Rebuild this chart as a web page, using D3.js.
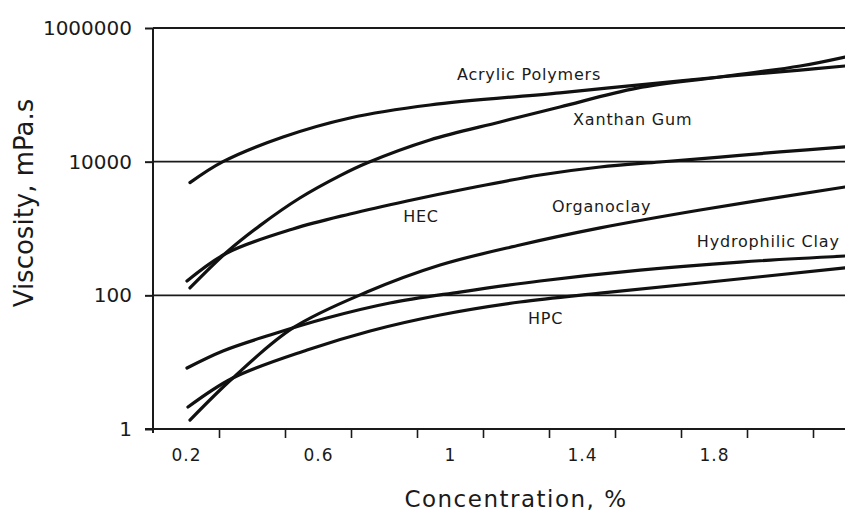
<!DOCTYPE html>
<html>
<head>
<meta charset="utf-8">
<script src="https://cdn.jsdelivr.net/npm/d3@7"></script>
<style>
  body{margin:0;background:#fff;}
  text{font-family:"DejaVu Sans",sans-serif;fill:#1a1a1a;}
</style>
</head>
<body>
<div id="grafico"></div>
<script>
// concentration (%) , viscosity (mPa.s)
const acrylic=[[0.212,4850],[0.312,10000],[0.494,23400],[0.697,45100],[0.939,70500],[1.333,107000],[1.567,140000],[1.818,185000],[2.061,235000],[2.197,270000]];
const xanthan=[[0.212,129],[0.324,445],[0.424,1105],[0.545,2860],[0.667,6190],[0.748,9550],[0.939,21100],[1.152,39300],[1.333,65800],[1.567,126000],[1.818,185000],[2.061,270000],[2.197,368000]];
const hec=[[0.203,164],[0.324,430],[0.524,984],[0.697,1650],[0.870,2580],[1.061,4040],[1.273,6320],[1.455,8330],[1.636,9890],[1.818,11700],[2.0,14000],[2.197,16600]];
const organoclay=[[0.212,1.36],[0.342,5.8],[0.524,32.5],[0.748,112],[0.970,284],[1.212,566],[1.455,1020],[1.758,1890],[2.197,4180]];
const hydrophilic=[[0.203,8.18],[0.312,14.7],[0.455,25.5],[0.627,45.8],[0.818,76.8],[1.030,112],[1.273,164],[1.576,239],[1.879,315],[2.197,388]];
const hpc=[[0.206,2.13],[0.342,5.8],[0.567,15.2],[0.758,29.3],[0.970,50.8],[1.212,79.5],[1.455,108],[1.758,153],[2.197,257]];

const series=[acrylic,xanthan,hec,organoclay,hydrophilic,hpc];

// rotulos das curvas, ancorados em coordenadas de dados
const nomes=['Acrylic Polymers','Xanthan Gum','HEC','Organoclay','Hydrophilic Clay','HPC'];
const nomesC=[1.021,1.373,0.858,1.309,1.748,1.236];
const nomesV=[167000,35400,1250,1770,529,37.2];

const yTicks=[1,100,10000,1000000];
const gridY=[100,10000,1000000];
const xTicks=[0.3,0.5,0.7,0.9,1.1,1.3,1.5,1.7,1.9,2.1];
const xLabels=[0.2,0.6,1,1.4,1.8];

const W=845,H=513;
const svg=d3.select('#grafico').append('svg').attr('width',W).attr('height',H);

const x=d3.scaleLinear().domain([0.1,2.2]).range([153,846]);
const y=d3.scaleLog().domain([1,1000000]).range([429,28]);

// linhas de grade (10000, 100) e linha do topo
svg.append('g').selectAll('line').data(gridY).join('line')
  .attr('x1',x(0.1)).attr('x2',W)
  .attr('y1',d=>y(d)).attr('y2',d=>y(d))
  .attr('stroke','#1a1a1a').attr('stroke-width',d=>d===1000000?2:1.6);

// eixo y
const eixoY=svg.append('g').attr('transform','translate('+x(0.1)+',0)')
  .call(d3.axisLeft(y).tickValues(yTicks).tickFormat(d3.format('d')).tickSize(8).tickPadding(13));
eixoY.select('.domain').attr('d','M0,'+y(1000000)+'V'+(y(1)+4)).attr('stroke','#1a1a1a').attr('stroke-width',2);
eixoY.selectAll('.tick line').attr('stroke','#1a1a1a').attr('stroke-width',2);
eixoY.selectAll('.tick text').style('font-size','20px').attr('fill','#1a1a1a');

// eixo x: marcas
const eixoX=svg.append('g').attr('transform','translate(0,'+y(1)+')')
  .call(d3.axisBottom(x).tickValues(xTicks).tickFormat('').tickSize(9));
eixoX.select('.domain').attr('d','M145,0H'+W).attr('stroke','#1a1a1a').attr('stroke-width',2);
eixoX.selectAll('.tick line').attr('stroke','#1a1a1a').attr('stroke-width',1.6);

// eixo x: rotulos
const rotX=svg.append('g').attr('transform','translate(0,'+y(1)+')')
  .call(d3.axisBottom(x).tickValues(xLabels).tickFormat(d=>String(d)).tickSize(0).tickPadding(20));
rotX.select('.domain').remove();
rotX.selectAll('.tick text').style('font-size','17px').style('letter-spacing','1px').attr('fill','#1a1a1a');

// curvas
const linha=d3.line().x(d=>x(d[0])).y(d=>y(d[1])).curve(d3.curveCatmullRom.alpha(0.5));
svg.append('g').selectAll('path').data(series).join('path')
  .attr('d',linha)
  .attr('fill','none')
  .attr('stroke','#111')
  .attr('stroke-width',3.2)
  .attr('stroke-linecap','round');

svg.append('g').selectAll('text').data(nomes).join('text')
  .attr('x',(d,i)=>x(nomesC[i]))
  .attr('y',(d,i)=>y(nomesV[i]))
  .style('font-size','16px')
  .style('letter-spacing','0.8px')
  .text(d=>d);

// titulos dos eixos
svg.append('text')
  .attr('x',516).attr('y',507)
  .attr('text-anchor','middle')
  .style('font-size','23px').style('letter-spacing','1.5px')
  .text('Concentration, %');

svg.append('text')
  .attr('transform','translate(33,203) rotate(-90)')
  .attr('text-anchor','middle')
  .style('font-size','26px')
  .text('Viscosity, mPa.s');
</script>
</body>
</html>
